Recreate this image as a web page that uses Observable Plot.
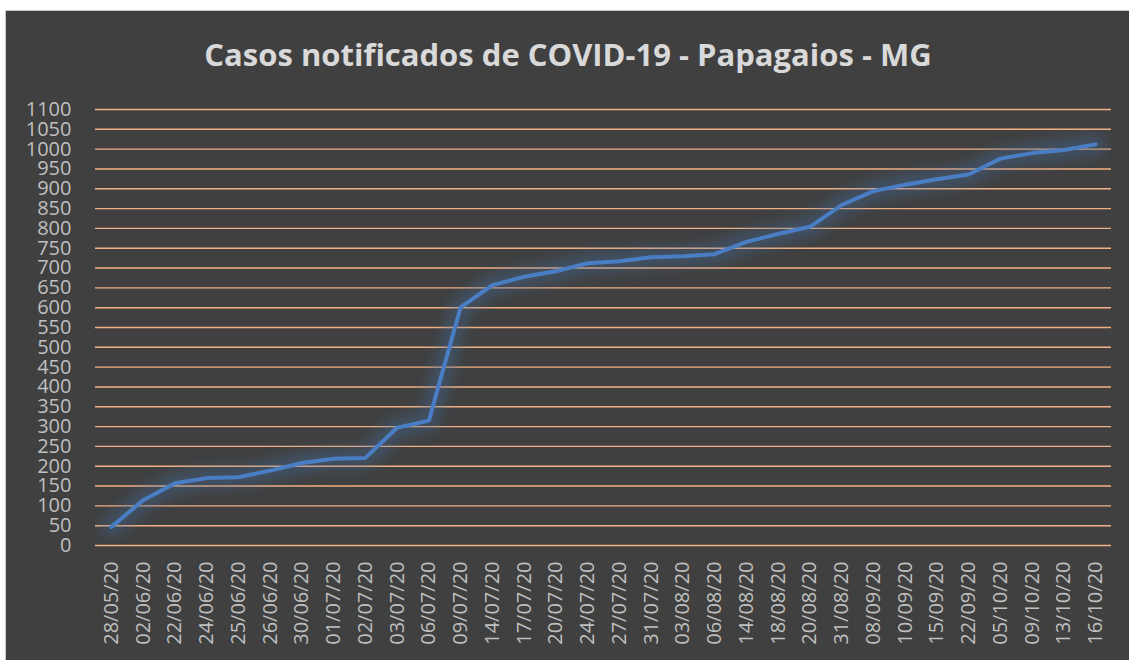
<!DOCTYPE html>
<html>
<head>
<meta charset="utf-8">
<script src="https://cdn.jsdelivr.net/npm/d3@7"></script>
<script src="https://cdn.jsdelivr.net/npm/@observablehq/plot@0.6"></script>
<style>
  html, body { margin: 0; padding: 0; background: #ffffff; width: 1129px; height: 660px; overflow: hidden; }
  #frame {
    position: absolute; left: 5px; top: 10px; width: 1124px; height: 650px;
    background: #404040; border-left: 1px solid #c9c9c9; border-top: 1px solid #c9c9c9;
  }
  #title {
    height: 80px; box-sizing: border-box; padding-top: 22px; text-align: center;
    font-family: "Open Sans", sans-serif; font-weight: bold; font-size: 31px; color: #d9d9d9;
    line-height: 42px; white-space: nowrap;
  }
  #chart svg { display: block; }
  #chart svg text { font-size: 20px; font-family: "Open Sans", sans-serif; fill: #bfbfbf; }
</style>
</head>
<body>
<div id="frame">
  <div id="title">Casos notificados de COVID-19 - Papagaios - MG</div>
  <div id="chart"></div>
</div>
<script>
const dates = ["28/05/20","02/06/20","22/06/20","24/06/20","25/06/20","26/06/20","30/06/20","01/07/20","02/07/20","03/07/20","06/07/20","09/07/20","14/07/20","17/07/20","20/07/20","24/07/20","27/07/20","31/07/20","03/08/20","06/08/20","14/08/20","18/08/20","20/08/20","31/08/20","08/09/20","10/09/20","15/09/20","22/09/20","05/10/20","09/10/20","13/10/20","16/10/20"];
const cases = [47,114,157,170,172,189,208,219,221,297,315,601,657,678,692,712,717,727,730,735,766,786,804,859,894,910,924,936,976,990,998,1012];
const yTicks = [0,50,100,150,200,250,300,350,400,450,500,550,600,650,700,750,800,850,900,950,1000,1050,1100];

const data = dates.map((d, i) => ({date: d, cases: cases[i]}));

const chart = Plot.plot({
  width: 1123,
  height: 569,
  marginTop: 18,
  marginBottom: 115,
  marginLeft: 89,
  marginRight: 18,
  style: { background: "transparent", fontFamily: "'Open Sans', sans-serif", fontSize: "20px", color: "#bfbfbf" },
  x: { type: "point", domain: dates, padding: 0.5, round: false, label: null },
  y: { domain: [0, 1100], label: null },
  marks: [
    Plot.ruleY(yTicks, { stroke: "#f4b183", strokeWidth: 1.4 }),
    Plot.axisY(yTicks, { tickSize: 0, tickPadding: 24, tickFormat: d => String(d), fill: "#bfbfbf", label: null }),
    Plot.axisX({ tickSize: 0, tickPadding: 16, tickRotate: -90, fill: "#bfbfbf", label: null }),
    Plot.line(data, { x: "date", y: "cases", stroke: "#3f6fae", strokeWidth: 22, strokeOpacity: 0.3 }),
    Plot.line(data, { x: "date", y: "cases", stroke: "#4a7ec4", strokeWidth: 4, strokeLinejoin: "miter", strokeLinecap: "round" })
  ]
});

document.getElementById("chart").appendChild(chart);

// glow filter
const svg = d3.select(chart);
const defs = svg.insert("defs", ":first-child");
const f = defs.append("filter").attr("id", "glow").attr("x", "-10%").attr("y", "-10%").attr("width", "120%").attr("height", "120%");
f.append("feGaussianBlur").attr("stdDeviation", 6);
const lines = svg.selectAll("g[aria-label='line'] path");
d3.select(lines.nodes()[0]).attr("filter", "url(#glow)");
</script>
</body>
</html>
